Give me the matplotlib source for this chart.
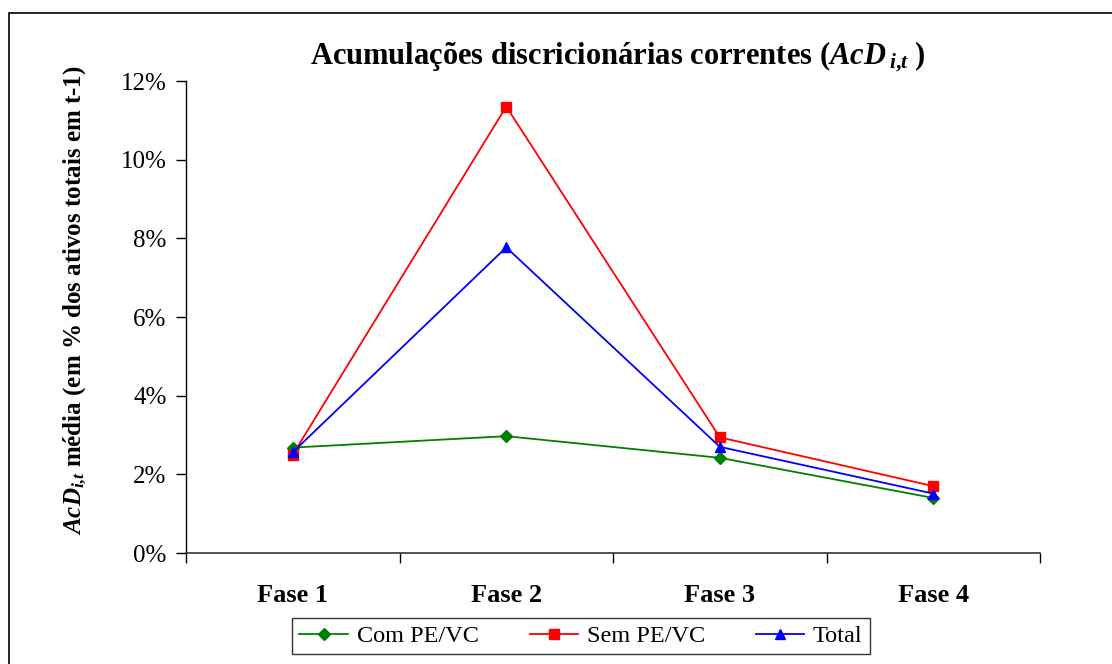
import matplotlib
matplotlib.use("Agg")
import matplotlib.pyplot as plt
from matplotlib.patches import Rectangle
from matplotlib.ticker import FixedLocator, PercentFormatter

# valores (em %)
fases = ["Fase 1", "Fase 2", "Fase 3", "Fase 4"]
com_pe_vc = [2.68, 2.97, 2.42, 1.40]
sem_pe_vc = [2.50, 11.35, 2.94, 1.70]
total = [2.56, 7.77, 2.70, 1.51]
yticks = [0, 2, 4, 6, 8, 10, 12]

plt.rcParams['font.family'] = ['Liberation Serif', 'DejaVu Serif']
plt.rcParams['mathtext.fontset'] = 'custom'
plt.rcParams['mathtext.rm'] = 'Liberation Serif:bold'
plt.rcParams['mathtext.it'] = 'Liberation Serif:italic:bold'
plt.rcParams['mathtext.bf'] = 'Liberation Serif:bold'

fig = plt.figure(figsize=(11.12, 6.64), dpi=100)
ax = fig.add_axes([186/1112, 1-553/664, (1040-186)/1112, (553-81)/664])

x = list(range(len(fases)))
ax.plot(x, com_pe_vc, color="#008000", marker="D", markersize=6, lw=1.3, label="Com PE/VC")
ax.plot(x, sem_pe_vc, color="#FF0000", marker="s", markersize=6.5, lw=1.3, label="Sem PE/VC")
ax.plot(x, total, color="#0000FF", marker="^", markersize=7.5, lw=1.3, label="Total")

ax.set_xlim(-0.5, 3.5)
ax.set_ylim(0, 12)
ax.set_yticks(yticks)
ax.yaxis.set_major_formatter(PercentFormatter(decimals=0))
ax.set_xticks(x)
ax.set_xticklabels(fases, fontweight="bold", fontsize=19)
ax.xaxis.set_minor_locator(FixedLocator([-0.5, 0.5, 1.5, 2.5, 3.5]))
ax.tick_params(axis="x", which="major", length=0, pad=22)
ax.tick_params(axis="x", which="minor", length=7, width=1, direction="out")
ax.tick_params(axis="y", length=7, width=1, direction="out", labelsize=18, pad=7)

for s in ["top", "right"]:
    ax.spines[s].set_visible(False)
ax.spines["left"].set_linewidth(1)
ax.spines["bottom"].set_linewidth(1.2)
ax.spines["bottom"].set_color("#333333")

fig.text(618/1112, 1-57/664,
         r"Acumulações discricionárias correntes ($AcD\,_{i{,}t}$ )",
         ha="center", va="center", fontsize=22, fontweight="bold")
fig.text(75/1112, 1-(60+540)/2/664,
         r"$AcD_{i{,}t}$ média (em % dos ativos totais em t-1)",
         ha="center", va="center", rotation=90, fontsize=18, fontweight="bold")

leg = ax.legend(loc="center", bbox_to_anchor=(581/1112, 1-636/664),
                bbox_transform=fig.transFigure, ncol=3, fontsize=17.5,
                frameon=True, fancybox=False, edgecolor="black",
                handlelength=2.0, columnspacing=2.1, borderpad=0.3,
                handletextpad=0.35)
leg.get_frame().set_linewidth(1)

# moldura da área do gráfico
fig.patches.append(Rectangle((9/1112, -0.1), 2, 1-13/664+0.1, transform=fig.transFigure,
                             fill=False, edgecolor="black", lw=1.2))

fig.savefig("out.png", dpi=100)
